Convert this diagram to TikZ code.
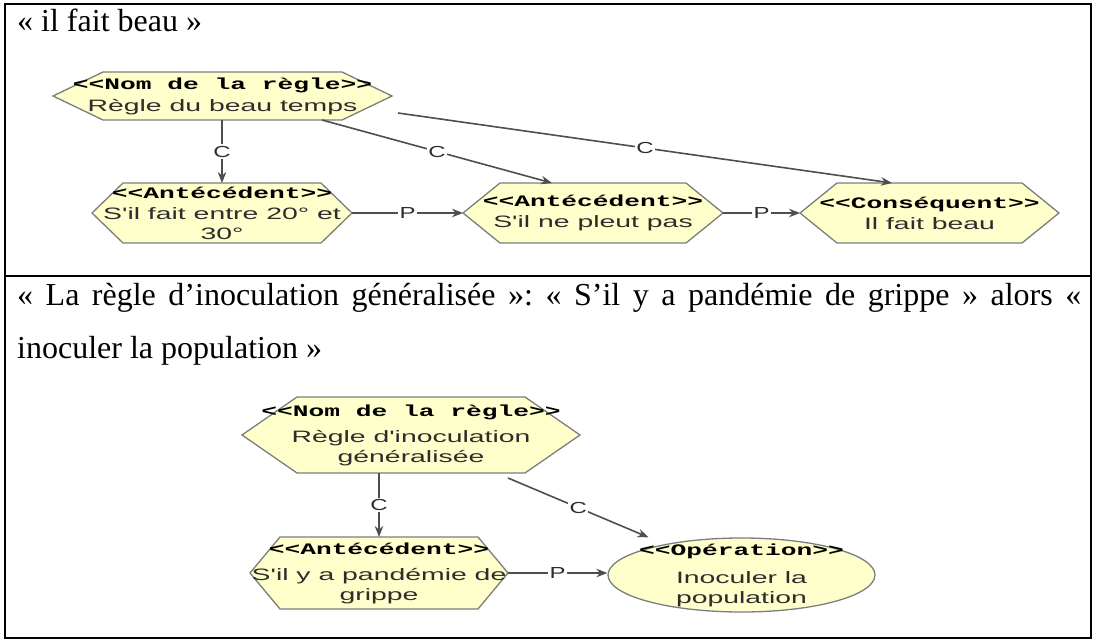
\documentclass[tikz,border=0pt]{standalone}
\usepackage{fontspec}
\setmainfont{Liberation Serif}
\newfontfamily\diagsans{Liberation Sans}[Ligatures=TeXOff]
\newfontfamily\diagmono{Liberation Mono}[Ligatures=TeXOff]
\usetikzlibrary{arrows.meta,shapes.geometric,calc}

\definecolor{shapefill}{RGB}{255,255,204}
\definecolor{shapeline}{RGB}{125,125,125}
\definecolor{linkcol}{RGB}{78,78,78}
\definecolor{labelcol}{RGB}{45,45,45}

% stereotype line (bold typewriter, widened) and label line (sans, widened)
\newcommand\stereo[1]{\scalebox{1.64}[1]{\fontsize{16}{17}\selectfont\diagmono\bfseries\color{black}<<#1>>}}
\newcommand\lbl[1]{\scalebox{1.72}[1]{#1}}
\newcommand\linktag[1]{\scalebox{1.5}[1]{#1}}

% hexagon drawn inside a named frame node
\newcommand\hexframe[2]{%
  \path[fill=shapefill, draw=shapeline, line width=1.3pt]
    (#1.west) -- ([xshift=#2pt]#1.north west) -- ([xshift=-#2pt]#1.north east)
    -- (#1.east) -- ([xshift=-#2pt]#1.south east) -- ([xshift=#2pt]#1.south west) -- cycle;}

\tikzset{
  frame/.style={rectangle, inner sep=0pt, outer sep=0pt},
  shapetext/.style={align=center, inner sep=0pt, text=labelcol,
    font=\diagsans\fontsize{16.5}{20}\selectfont},
  lk/.style={draw=linkcol, line width=1.6pt, -{Stealth[length=11pt,width=8.5pt]}},
  lklabel/.style={fill=white, inner sep=1.5pt, text=labelcol,
    font=\diagsans\fontsize{16}{16}\selectfont},
  body/.style={anchor=base west, inner sep=0pt, font=\fontsize{32}{36}\selectfont}
}

\begin{document}
\begin{tikzpicture}[x=1pt, y=-1pt]
\useasboundingbox (0,0) rectangle (1098,642);

% table frame
\draw[line width=1.6pt] (5,4) rectangle (1091,638);
\draw[line width=1.6pt] (5,276) -- (1091,276);

% cell texts
\node[body] (t1) at (17,32) {« il fait beau »};
\node[body] (t2) at (17,305) {\hbox to 1064pt{\spaceskip=0.25em plus 1fil\xspaceskip=\spaceskip
  « La règle d'inoculation généralisée »: « S'il y a pandémie de grippe » alors «}};
\node[body] (t3) at (17,358) {inoculer la population »};

% shape frames
\node[frame, minimum width=339pt, minimum height=48pt] (n1) at (222.5,96) {};
\node[frame, minimum width=260pt, minimum height=60pt] (a1) at (222,213) {};
\node[frame, minimum width=260pt, minimum height=60pt] (a2) at (593,213) {};
\node[frame, minimum width=259pt, minimum height=60pt] (c1) at (929.5,213) {};
\node[frame, minimum width=338pt, minimum height=76pt] (n2) at (411,435) {};
\node[frame, minimum width=258pt, minimum height=72pt] (a3) at (379,573) {};

\hexframe{n1}{50}
\hexframe{a1}{31}
\hexframe{a2}{37}
\hexframe{c1}{37}
\hexframe{n2}{55}
\hexframe{a3}{30}
\node[ellipse, fill=shapefill, draw=shapeline, line width=1.3pt, inner sep=0pt,
      minimum width=267pt, minimum height=74pt] (e1) at (741.5,575) {};

% shape texts
\node[shapetext] (n1t) at (n1) {\stereo{Nom de la règle}\\[2pt]\lbl{Règle du beau temps}};
\node[shapetext] (a1t) at (a1) {\stereo{Antécédent}\\[1pt]\lbl{S'il fait entre 20° et}\\\lbl{30°}};
\node[shapetext] (a2t) at (a2) {\stereo{Antécédent}\\[1pt]\lbl{S'il ne pleut pas}};
\node[shapetext] (c1t) at (c1) {\stereo{Conséquent}\\[1pt]\lbl{Il fait beau}};
\node[shapetext] (n2t) at (n2) {\stereo{Nom de la règle}\\[6pt]\lbl{Règle d'inoculation}\\\lbl{généralisée}};
\node[shapetext] (a3t) at (a3) {\stereo{Antécédent}\\[6pt]\lbl{S'il y a pandémie de}\\\lbl{grippe}};
\node[shapetext] (e1t) at (e1) {\stereo{Opération}\\[8pt]\lbl{Inoculer la}\\\lbl{population}};

% connectors of the first rule
\draw[lk] (n1.south -| a1.north) -- node[lklabel] {\linktag{C}} (a1.north);
\draw[lk] ([xshift=99.5pt]n1.south) -- node[lklabel] {\linktag{C}} ([xshift=-41pt]a2.north);
\draw[lk] ([xshift=6pt,yshift=-17pt]n1.east) -- node[lklabel] {\linktag{C}} ([xshift=-37.5pt]c1.north);
\draw[lk] (a1.east) -- node[lklabel] {\linktag{P}} (a2.west);
\draw[lk] (a2.east) -- node[lklabel] {\linktag{P}} (c1.west);

% connectors of the second rule
\draw[lk] (n2.south -| a3.north) -- node[lklabel] {\linktag{C}} (a3.north);
\draw[lk] ([xshift=97pt,yshift=-5pt]n2.south) -- node[lklabel] {\linktag{C}} ([xshift=-93pt]e1.north);
\draw[lk] (a3.east) -- node[lklabel] {\linktag{P}} (a3.east -| e1.west);
\end{tikzpicture}
\end{document}
